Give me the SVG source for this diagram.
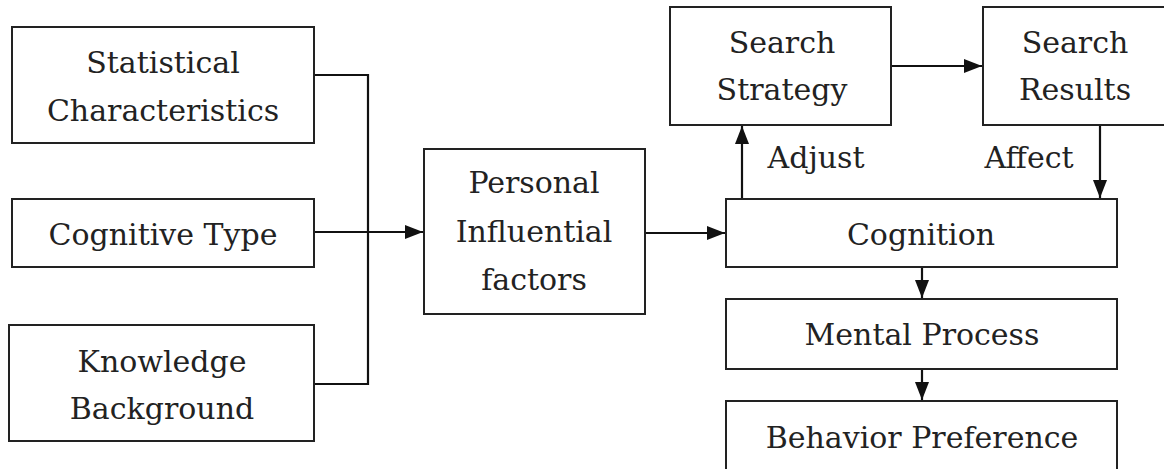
<svg xmlns="http://www.w3.org/2000/svg" width="1164" height="469" viewBox="0 0 1164 469">
  <style>
    .box { fill: #fff; stroke: #222; stroke-width: 2; }
    .lbl { font-family: "DejaVu Serif", "Liberation Serif", serif; font-size: 30px; fill: #222; text-anchor: middle; }
    .edge { fill: none; stroke: #111; stroke-width: 2.2; }
  </style>
  <defs>
    <marker id="arrow" viewBox="0 0 18 14" refX="18" refY="7" markerWidth="18" markerHeight="14" markerUnits="userSpaceOnUse" orient="auto">
      <path d="M0,0 L18,7 L0,14 Z" fill="#111"/>
    </marker>
  </defs>
  <rect width="1164" height="469" fill="#fff"/>

  <g id="connectors">
    <!-- three inputs merge on the bus line -->
    <polyline class="edge" points="314,75 368,75 368,384 314,384"/>
    <line class="edge" x1="314" y1="232" x2="423" y2="232" marker-end="url(#arrow)"/>
    <line class="edge" x1="645" y1="233" x2="725" y2="233" marker-end="url(#arrow)"/>
    <line class="edge" x1="891" y1="66" x2="982" y2="66" marker-end="url(#arrow)"/>
    <line class="edge" x1="742" y1="199" x2="742" y2="126" marker-end="url(#arrow)"/>
    <line class="edge" x1="1100" y1="125" x2="1100" y2="198" marker-end="url(#arrow)"/>
    <line class="edge" x1="922" y1="267" x2="922" y2="298" marker-end="url(#arrow)"/>
    <line class="edge" x1="922" y1="369" x2="922" y2="400" marker-end="url(#arrow)"/>
    <text class="lbl" x="816" y="168">Adjust</text>
    <text class="lbl" x="1029" y="168">Affect</text>
  </g>

  <g id="statistical">
    <rect class="box" x="12" y="27" width="302" height="116"/>
    <text class="lbl" x="163" y="73">Statistical</text>
    <text class="lbl" x="163" y="121">Characteristics</text>
  </g>
  <g id="cognitive-type">
    <rect class="box" x="12" y="199" width="302" height="68"/>
    <text class="lbl" x="163" y="245">Cognitive Type</text>
  </g>
  <g id="knowledge">
    <rect class="box" x="9" y="325" width="305" height="116"/>
    <text class="lbl" x="162" y="372">Knowledge</text>
    <text class="lbl" x="162" y="419">Background</text>
  </g>
  <g id="personal">
    <rect class="box" x="424" y="149" width="221" height="165"/>
    <text class="lbl" x="534" y="193">Personal</text>
    <text class="lbl" x="534" y="242">Influential</text>
    <text class="lbl" x="534" y="290">factors</text>
  </g>
  <g id="strategy">
    <rect class="box" x="670" y="7" width="221" height="118"/>
    <text class="lbl" x="782" y="53">Search</text>
    <text class="lbl" x="782" y="100">Strategy</text>
  </g>
  <g id="results">
    <rect class="box" x="983" y="7" width="190" height="118"/>
    <text class="lbl" x="1075" y="53">Search</text>
    <text class="lbl" x="1075" y="100">Results</text>
  </g>
  <g id="cognition">
    <rect class="box" x="726" y="199" width="391" height="68"/>
    <text class="lbl" x="921" y="245">Cognition</text>
  </g>
  <g id="mental">
    <rect class="box" x="726" y="299" width="391" height="70"/>
    <text class="lbl" x="922" y="345">Mental Process</text>
  </g>
  <g id="behavior">
    <rect class="box" x="726" y="401" width="391" height="80"/>
    <text class="lbl" x="922" y="448">Behavior Preference</text>
  </g>
</svg>
